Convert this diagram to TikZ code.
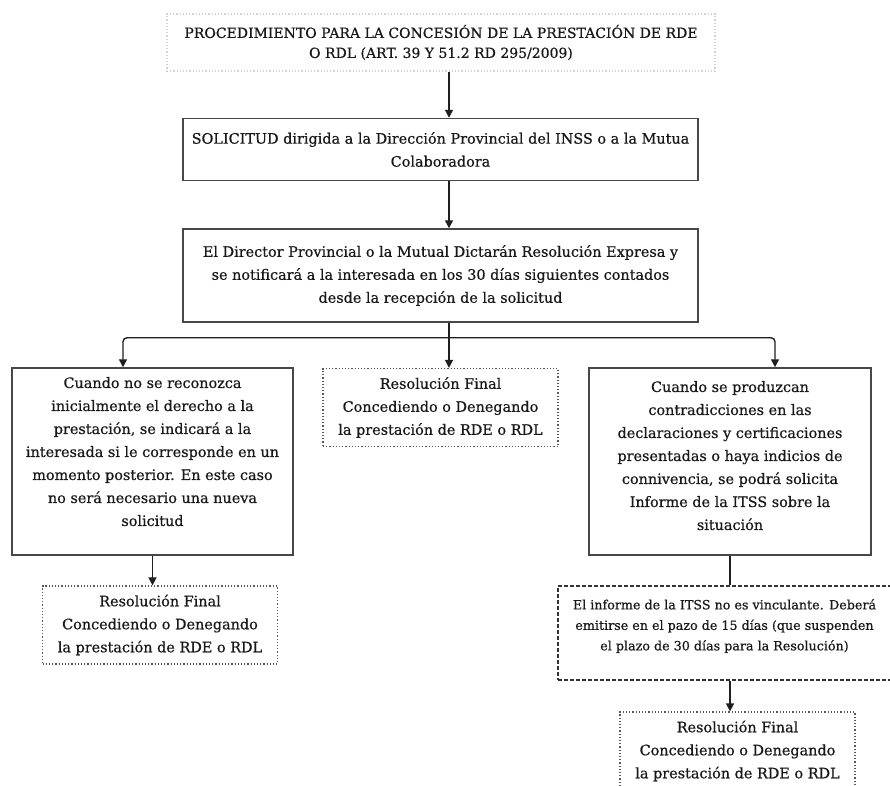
\documentclass[tikz,border=0pt]{standalone}
\usepackage{fontspec}
\setmainfont{DejaVu Serif}[FakeBold=0.6]
\usetikzlibrary{positioning, arrows.meta, calc}

\begin{document}
\begin{tikzpicture}[x=1pt, y=-1pt,
    texto/.style={align=center, text=black!90, inner sep=2pt,
      font=\fontsize{14.4}{23}\selectfont},
    caja/.style={texto, draw=black!72, line width=1.5pt},
    resol/.style={texto, draw=black!65, dotted, line width=1.2pt,
      minimum width=235, minimum height=78},
    flecha/.style={-{Triangle[length=8pt, width=8pt]}, line width=1.4pt, black!88},
    linea/.style={line width=1.4pt, black!88}]
    \useasboundingbox (0,0) rectangle (890,785);
    % Titulo
    \node[texto, draw=black!18, dotted, line width=1.2pt, minimum width=548,
      minimum height=57, font=\fontsize{14}{20}\selectfont] (tit) at (441,42.5)
      {PROCEDIMIENTO PARA LA CONCESIÓN DE LA PRESTACIÓN DE RDE\\O RDL (ART. 39 Y 51.2 RD 295/2009)};
    % Solicitud y resolucion expresa
    \node[caja, minimum width=515, minimum height=62] (sol) at (440.5,149.5)
      {SOLICITUD dirigida a la Dirección Provincial del INSS o a la Mutua\\Colaboradora};
    \node[caja, minimum width=515, minimum height=93] (dir) at (440.5,275.5)
      {El Director Provincial o la Mutual Dictarán Resolución Expresa y\\se notificará a la interesada en los 30 días siguientes contados\\desde la recepción de la solicitud};
    % Tres casos
    \node[caja, minimum width=281, minimum height=187] (izq) at (152.5,461.5)
      {Cuando no se reconozca\\inicialmente el derecho a la\\prestación, se indicará a la\\interesada si le corresponde en un\\momento posterior. En este caso\\no será necesario una nueva\\solicitud\\[-3pt]\mbox{}};
    \node[resol] (med) at (440.5,407.5)
      {Resolución Final\\Concediendo o Denegando\\la prestación de RDE o RDL};
    \node[caja, minimum width=282, minimum height=187] (der) at (730,461.5)
      {Cuando se produzcan\\contradicciones en las\\declaraciones y certificaciones\\presentadas o haya indicios de\\connivencia, se podrá solicita\\Informe de la ITSS sobre la\\situación\\[-11pt]\mbox{}};
    % Resoluciones finales e informe
    \node[resol] (resI) at (160,625) {Resolución Final\\Concediendo o Denegando\\la prestación de RDE o RDL};
    \node[texto, draw=black!80, dashed, dash pattern=on 4pt off 2pt, line width=1.5pt,
      minimum width=333, minimum height=94, font=\fontsize{12.7}{20.5}\selectfont] (inf) at (724.5,633)
      {El informe de la ITSS no es vinculante. Deberá\\emitirse en el pazo de 15 días (que suspenden\\el plazo de 30 días para la Resolución)\\[-4pt]\mbox{}};
    \node[resol] (resD) at (737.5,751) {Resolución Final\\Concediendo o Denegando\\la prestación de RDE o RDL};
    % Flechas
    \draw[flecha] ([xshift=8]tit.south) -- ([xshift=8.5]sol.north);
    \draw[flecha] ([xshift=8.5]sol.south) -- ([xshift=8.5]dir.north);
    \coordinate (rama) at ($(dir.south)+(8.5,15)$);
    \draw[linea] ([xshift=8.5]dir.south) -- (rama);
    \draw[flecha, rounded corners=4pt] (rama) -| ([xshift=-29.5]izq.north);
    \draw[flecha] (rama) -- ([xshift=8.5]med.north);
    \draw[flecha, rounded corners=4pt] (rama) -| ([xshift=45]der.north);
    \draw[flecha] (izq.south) -- (izq.south |- resI.north);
    \draw[linea] (der.south) -- (der.south |- inf.north);
    \draw[flecha] (der.south |- inf.south) -- (der.south |- resD.north);
  \end{tikzpicture}
\end{document}
